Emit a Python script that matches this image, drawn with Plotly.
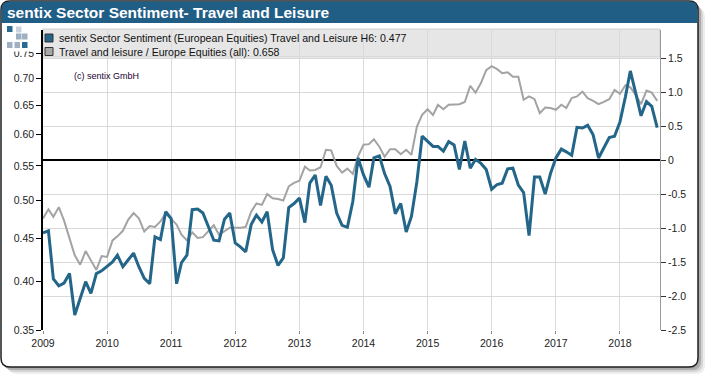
import pandas as pd
import plotly.graph_objects as go

# ---------------- data ----------------
start_month = "2009-01-01"
sentiment_h6 = [
    -1.07, -1.04, -1.75, -1.85, -1.81, -1.67, -2.28, -2.05, -1.79, -1.96, -1.67, -1.63,  # 2009
    -1.56, -1.50, -1.40, -1.57, -1.47, -1.37, -1.57, -1.74, -1.82, -1.13, -1.17, -0.76,  # 2010
    -0.86, -1.82, -1.51, -1.40, -0.73, -0.72, -0.78, -0.98, -1.18, -1.19, -0.87, -0.78,  # 2011
    -1.22, -1.28, -1.35, -0.95, -0.81, -0.91, -0.76, -1.32, -1.55, -1.44, -0.70, -0.64,  # 2012
    -0.56, -0.92, -0.34, -0.22, -0.67, -0.24, -0.37, -0.78, -0.96, -0.99, -0.61, 0.03,   # 2013
    -0.22, -0.40, 0.03, 0.06, -0.20, -0.39, -0.79, -0.64, -1.06, -0.83, -0.32, 0.35,     # 2014
    0.27, 0.20, 0.20, 0.13, 0.27, 0.22, -0.14, 0.28, -0.12, 0.01, -0.05, -0.14,          # 2015
    -0.43, -0.36, -0.34, -0.13, -0.12, -0.37, -0.48, -1.11, -0.25, -0.25, -0.50, -0.20,  # 2016
    0.03, 0.16, 0.12, 0.07, 0.48, 0.47, 0.51, 0.37, 0.03, 0.17, 0.33, 0.35,              # 2017
    0.56, 0.93, 1.31, 0.98, 0.65, 0.86, 0.79, 0.477,                                     # 2018
]
relative_ratio = [
    0.476, 0.488, 0.478, 0.491, 0.473, 0.452, 0.430, 0.419, 0.435, 0.424, 0.413, 0.429,  # 2009
    0.428, 0.448, 0.453, 0.460, 0.474, 0.483, 0.476, 0.459, 0.466, 0.465, 0.472, 0.483,  # 2010
    0.475, 0.468, 0.455, 0.448, 0.458, 0.451, 0.452, 0.459, 0.467, 0.455, 0.460, 0.464,  # 2011
    0.464, 0.464, 0.465, 0.485, 0.496, 0.494, 0.509, 0.503, 0.502, 0.500, 0.520, 0.525,  # 2012
    0.528, 0.549, 0.543, 0.544, 0.548, 0.575, 0.574, 0.550, 0.540, 0.546, 0.538, 0.565,  # 2013
    0.583, 0.584, 0.592, 0.580, 0.564, 0.576, 0.576, 0.568, 0.575, 0.567, 0.613, 0.633,  # 2014
    0.643, 0.633, 0.651, 0.643, 0.651, 0.652, 0.652, 0.656, 0.686, 0.673, 0.691, 0.716,  # 2015
    0.724, 0.718, 0.710, 0.712, 0.703, 0.703, 0.660, 0.666, 0.661, 0.636, 0.646, 0.645,  # 2016
    0.642, 0.651, 0.645, 0.663, 0.666, 0.675, 0.663, 0.658, 0.652, 0.656, 0.661, 0.678,  # 2017
    0.671, 0.687, 0.683, 0.669, 0.652, 0.677, 0.673, 0.658,                              # 2018
]
left_ticks = [0.35, 0.40, 0.45, 0.50, 0.55, 0.60, 0.65, 0.70, 0.75]
right_ticks = [-2.5, -2.0, -1.5, -1.0, -0.5, 0, 0.5, 1.0, 1.5]
right_tick_labels = ["-2.5", "-2.0", "-1.5", "-1.0", "-0.5", "0", "0.5", "1.0", "1.5"]
year_ticks = [str(y) for y in range(2009, 2019)]

title_text = "sentix Sector Sentiment- Travel and Leisure"
name_blue = "sentix Sector Sentiment (European Equities) Travel and Leisure H6"
name_gray = "Travel and leisure / Europe Equities (all)"

dates = pd.date_range(start_month, periods=len(sentiment_h6), freq="MS")

# ---------------- geometry helpers ----------------
FW, FH = 710, 376
L, T, W, H = 43, 30, 617, 300

def PX(x):
    return (x - L) / W

def PY(y):
    return (T + H - y) / H

def rrect(x0, y0, x1, y1, r, top_only=False):
    if top_only:
        return (f"M {PX(x0)},{PY(y1)} L {PX(x0)},{PY(y0 + r)} Q {PX(x0)},{PY(y0)} {PX(x0 + r)},{PY(y0)} "
                f"L {PX(x1 - r)},{PY(y0)} Q {PX(x1)},{PY(y0)} {PX(x1)},{PY(y0 + r)} L {PX(x1)},{PY(y1)} Z")
    return (f"M {PX(x0 + r)},{PY(y0)} L {PX(x1 - r)},{PY(y0)} Q {PX(x1)},{PY(y0)} {PX(x1)},{PY(y0 + r)} "
            f"L {PX(x1)},{PY(y1 - r)} Q {PX(x1)},{PY(y1)} {PX(x1 - r)},{PY(y1)} "
            f"L {PX(x0 + r)},{PY(y1)} Q {PX(x0)},{PY(y1)} {PX(x0)},{PY(y1 - r)} "
            f"L {PX(x0)},{PY(y0 + r)} Q {PX(x0)},{PY(y0)} {PX(x0 + r)},{PY(y0)} Z")

BLUE = "#24668a"
GRAY = "#a3a3a3"
FONT = "Liberation Sans, Arial, sans-serif"

fig = go.Figure()
fig.add_trace(go.Scatter(x=dates, y=relative_ratio, mode="lines", yaxis="y",
                         line=dict(color=GRAY, width=2), name=name_gray, showlegend=False))
fig.add_trace(go.Scatter(x=dates, y=sentiment_h6, mode="lines", yaxis="y2",
                         line=dict(color=BLUE, width=3), name=name_blue, showlegend=False))

shapes = []
# shadow
for off, col in [(7, "#eeeeee"), (5, "#d4d4d4"), (3, "#acacac")]:
    shapes.append(dict(type="path", xref="paper", yref="paper", layer="below",
                       path=rrect(1 + off, 1 + off, 698 + off, 367 + off, 9),
                       fillcolor=col, line=dict(width=0)))
# frame
shapes.append(dict(type="path", xref="paper", yref="paper", layer="below",
                   path=rrect(1, 1, 698, 367, 9), fillcolor="white",
                   line=dict(color="#1e1e1e", width=1.5)))
# title bar
shapes.append(dict(type="path", xref="paper", yref="paper", layer="below",
                   path=rrect(1.5, 1.5, 697.5, 23, 8, top_only=True), fillcolor="#215e85",
                   line=dict(width=0)))
# legend band
shapes.append(dict(type="rect", xref="paper", yref="paper", layer="below",
                   x0=PX(43), x1=PX(660), y0=PY(57), y1=PY(29),
                   fillcolor="#e6e6e6", line=dict(color="#d0d0d0", width=1)))
# legend squares
for yc, col in [(38, BLUE), (51.5, "#a8a8a8")]:
    shapes.append(dict(type="rect", xref="paper", yref="paper", layer="above",
                       x0=PX(45), x1=PX(53), y0=PY(yc + 4), y1=PY(yc - 4),
                       fillcolor=col, line=dict(color="#333333", width=1)))
# logo: white patch + squares
shapes.append(dict(type="rect", xref="paper", yref="paper", layer="above",
                   x0=PX(3), x1=PX(38), y0=PY(51.5), y1=PY(24),
                   fillcolor="white", line=dict(width=0)))
logo = [(7, 26, "#2b6a90"), (16, 26.5, "#c9d2dc"),
        (16, 33.5, "#9fb0c2"), (22, 33.5, "#9fb0c2"),
        (7, 42, "#9fb0c2"), (14.5, 42, "#9fb0c2"), (22, 42, "#2b6a90")]
for lx, ly, col in logo:
    shapes.append(dict(type="rect", xref="paper", yref="paper", layer="above",
                       x0=PX(lx), x1=PX(lx + 5.5), y0=PY(ly + 6), y1=PY(ly),
                       fillcolor=col, line=dict(width=0)))

annotations = [
    dict(text=f"<b>{title_text}</b>", x=PX(5), y=PY(12.5), xref="paper", yref="paper",
         xanchor="left", yanchor="middle", showarrow=False,
         font=dict(family=FONT, size=15.5, color="white")),
    dict(text=f"{name_blue}: {sentiment_h6[-1]:.3f}", x=PX(57), y=PY(38), xref="paper", yref="paper",
         xanchor="left", yanchor="middle", showarrow=False,
         font=dict(family=FONT, size=10.6, color="#111111")),
    dict(text=f"{name_gray}: {relative_ratio[-1]:.3f}", x=PX(57), y=PY(51.5), xref="paper", yref="paper",
         xanchor="left", yanchor="middle", showarrow=False,
         font=dict(family=FONT, size=10.6, color="#111111")),
    dict(text="(c) sentix GmbH", x=PX(72), y=PY(76), xref="paper", yref="paper",
         xanchor="left", yanchor="middle", showarrow=False,
         font=dict(family=FONT, size=9, color="#220033")),
]

fig.update_layout(
    width=FW, height=FH,
    margin=dict(l=L, r=FW - L - W, t=T, b=FH - T - H, pad=0),
    paper_bgcolor="white", plot_bgcolor="rgba(0,0,0,0)",
    showlegend=False,
    font=dict(family=FONT, size=10.5, color="#222222"),
    shapes=shapes, annotations=annotations,
    xaxis=dict(type="date", range=["2009-01-01", "2018-08-17"],
               tickvals=[f"{y}-01-01" for y in year_ticks], ticktext=year_ticks,
               showgrid=True, gridcolor="#d9d9d9", gridwidth=1,
               ticks="outside", ticklen=3, tickcolor="#888888",
               showline=False, zeroline=False,
               tickfont=dict(family=FONT, size=10.5, color="#222222")),
    yaxis=dict(type="log", range=[-0.455932, -0.0970],
               tickvals=left_ticks, ticktext=[f"{v:.2f}" for v in left_ticks],
               showgrid=False, zeroline=False,
               showline=True, linecolor="#000000", linewidth=1.5,
               ticks="outside", ticklen=5, tickcolor="#000000",
               tickfont=dict(family=FONT, size=10.5, color="#222222")),
    yaxis2=dict(overlaying="y", side="right", range=[-2.5, 1.912],
                tickvals=right_ticks, ticktext=right_tick_labels,
                showgrid=True, gridcolor="#d9d9d9", gridwidth=1,
                zeroline=True, zerolinecolor="#000000", zerolinewidth=2,
                showline=True, linecolor="#999999", linewidth=1,
                ticks="outside", ticklen=5, tickcolor="#333333",
                tickfont=dict(family=FONT, size=10.5, color="#222222")),
)

fig.write_html("out.html", config={"displayModeBar": False},
               post_script="document.body.style.margin='0px';document.body.style.overflow='hidden';")
